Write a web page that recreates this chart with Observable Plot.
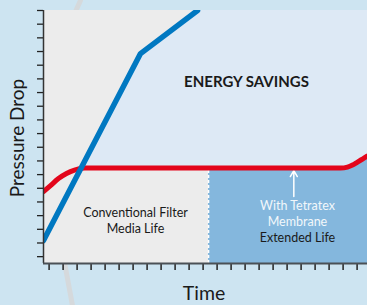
<!DOCTYPE html>
<html><head><meta charset="utf-8">
<script src="https://cdn.jsdelivr.net/npm/d3@7"></script>
<script src="https://cdn.jsdelivr.net/npm/@observablehq/plot@0.6"></script>
<style>
html,body{margin:0;padding:0;background:#cde4f1;}
#chart{width:367px;height:305px;overflow:hidden}
</style></head><body><div id="chart"></div>
<script>
// tick positions (time and pressure units)
const xTicks = d3.range(0, 23);
const yTicks = d3.range(0, 19);

// conventional filter pressure drop (blue)
const blueX = [-0.4, 6.53, 10.6];
const blueY = [1.18, 14.85, 18];

// Tetratex membrane pressure drop (red)
const redX = [-0.4, 0.1, 0.671, 1.243, 1.814, 2.529, 3.671, 20.814, 21.314, 21.671, 22.029, 22.386, 22.743];
const redY = [4.76, 5.20, 5.71, 6.08, 6.33, 6.48, 6.48, 6.48, 6.55, 6.70, 6.92, 7.14, 7.36];

// end of conventional filter media life
const lifeEnd = 11.39;
const arrowX = 17.48;
const arrowY = [4.4, 6.3];

// decorative background stroke
const decoX = [2.24, 1.92, 1.1, 1.67];
const decoY = [18.73, 18.0, -0.43, -3.57];
const decoSeg = ["a", "a", "b", "b"];

const labels = [
  {x: 14.1, y: 12.73, text: "ENERGY SAVINGS", kind: "bold"},
  {x: 6.17, y: 2.68, text: "Conventional Filter\nMedia Life", kind: "dark"},
  {x: 17.74, y: 3.21, text: "With Tetratex\nMembrane", kind: "white"},
  {x: 17.74, y: 1.42, text: "Extended Life", kind: "dark"}
];
const axisLabels = {y: "Pressure Drop", x: "Time"};

const blue = blueX.map((x, i) => ({x, y: blueY[i]}));
const red = redX.map((x, i) => ({x, y: redY[i]}));
const redAfter = [{x: lifeEnd, y: 6.48}, ...red.filter(d => d.x > lifeEnd)];
const deco = decoX.map((x, i) => ({x, y: decoY[i], s: decoSeg[i]}));

const X0 = -0.4, Y0 = -0.5, Y1 = 18;

const chart = Plot.plot({
  width: 367, height: 305,
  marginLeft: 43, marginRight: 0, marginTop: 10, marginBottom: 42,
  style: {background: "transparent", fontFamily: "Lato, sans-serif"},
  x: {domain: [X0, 22.743], axis: null},
  y: {domain: [Y0, Y1], axis: null},
  marks: [
    Plot.line(deco, {x: "x", y: "y", z: "s", stroke: "#d5d9dc", strokeWidth: 5}),
    Plot.frame({fill: "#ececec", stroke: null}),
    Plot.areaY(red, {x: "x", y1: "y", y2: Y1, fill: "#dde9f5", curve: "monotone-x"}),
    Plot.areaX(blue, {y: "y", x1: X0, x2: "x", fill: "#ececec"}),
    Plot.areaY(redAfter, {x: "x", y1: Y0, y2: "y", fill: "#84b7dd", curve: "monotone-x"}),
    Plot.ruleX([lifeEnd], {y1: Y0, y2: 6.3, stroke: "white", strokeWidth: 1.5, strokeDasharray: "3,2"}),
    Plot.arrow([{x: arrowX}], {x1: "x", x2: "x", y1: arrowY[0], y2: arrowY[1], stroke: "white", strokeWidth: 1.5, headLength: 7}),
    Plot.line(red, {x: "x", y: "y", stroke: "#e3051b", strokeWidth: 5, curve: "monotone-x", clip: true}),
    Plot.line(blue, {x: "x", y: "y", stroke: "#0078c1", strokeWidth: 5.5, clip: true}),
    Plot.axisY({ticks: yTicks, tickSize: 6, tickFormat: () => "", stroke: "#222", strokeWidth: 1.3, label: null}),
    Plot.axisX({ticks: xTicks, tickSize: 7, tickFormat: () => "", stroke: "#222", strokeWidth: 1.5, label: null}),
    Plot.ruleX([X0], {stroke: "#333", strokeWidth: 1.5}),
    Plot.ruleY([Y0], {stroke: "#4a5056", strokeWidth: 2}),
    Plot.text(labels.filter(d => d.kind === "bold"), {x: "x", y: "y", text: "text", fontWeight: "bold", fontSize: 15, fill: "#1a1a1a"}),
    Plot.text(labels.filter(d => d.kind === "dark"), {x: "x", y: "y", text: "text", fontSize: 12.5, lineHeight: 1.3, fill: "#1a1a1a"}),
    Plot.text(labels.filter(d => d.kind === "white"), {x: "x", y: "y", text: "text", fontSize: 12.5, lineHeight: 1.32, fill: "#f2f7fb"}),
    Plot.text([axisLabels.y], {frameAnchor: "left", text: d => d, rotate: -90, textAnchor: "middle", lineAnchor: "middle", dx: -26, dy: 1, fontSize: 19, fill: "#1a1a1a"}),
    Plot.text([axisLabels.x], {frameAnchor: "bottom", text: d => d, textAnchor: "middle", lineAnchor: "middle", dy: 30.5, dx: -1.5, fontSize: 19.5, fill: "#1a1a1a"})
  ]
});
document.getElementById("chart").appendChild(chart);
</script></body></html>
